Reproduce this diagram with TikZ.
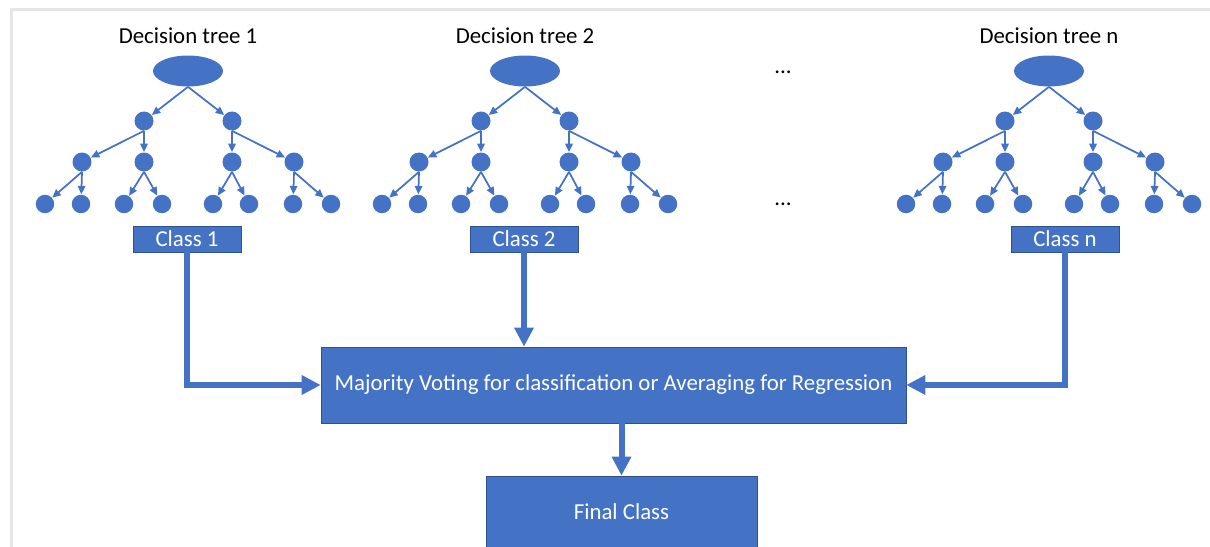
\documentclass[tikz,border=0pt]{standalone}
\usepackage{fontspec}
\setmainfont{Carlito}
\usetikzlibrary{arrows.meta,shapes,positioning,calc}
\definecolor{office}{HTML}{4472C4}
\definecolor{officedark}{HTML}{2F528F}
\definecolor{framegray}{HTML}{E6E6E6}
\tikzset{
    treeroot/.style={
        ellipse,
        fill=office,
        minimum width=1.4cm,
        minimum height=0.62cm,
        inner sep=0pt,
    },
    treenode/.style={
        circle,
        fill=office,
        minimum size=0.38cm,
        inner sep=0pt,
    },
    treeleaf/.style={
        circle,
        fill=office,
        minimum size=0.37cm,
        inner sep=0pt,
    },
    title/.style={
        font=\fontsize{13}{15}\selectfont,
        text=black,
    },
    classbox/.style={
        rectangle,
        draw=officedark,
        fill=office,
        text=white,
        font=\fontsize{13}{15}\selectfont,
        minimum width=2.16cm,
        minimum height=0.52cm,
        inner sep=0pt,
    },
    bigbox/.style={
        rectangle,
        draw=officedark,
        fill=office,
        text=white,
        font=\fontsize{13}{15}\selectfont,
        inner sep=0pt,
    },
    flow/.style={
        draw=office,
        line width=0.12cm,
        -{Triangle[length=0.38cm,width=0.37cm]},
    },
    every edge/.style={
        draw=office,
        -{Triangle[length=0.17cm,width=0.15cm]},
        line width=0.035cm,
    },
}
\begin{document}
\begin{tikzpicture}[x=0.02cm,y=-0.02cm]
    \useasboundingbox (0,0) rectangle (1210,547);
    \draw [framegray, line width=0.06cm] (11.5,547) -- (11.5,10) -- (1210,10);

    % one tree per column
    \foreach \t/\x/\c in {1/188/187, 2/525/524, n/1049/1065}{
        \node [title] (t\t) at (\x,36) {Decision tree \t};
        \node [treeroot] (r\t) at (\x,71) {};
        \node [treenode] (a\t1) at (\x-44,121) {};
        \node [treenode] (a\t2) at (\x+44,121) {};
        \node [treenode] (b\t1) at (\x-106,162) {};
        \node [treenode] (b\t2) at (\x-44,162) {};
        \node [treenode] (b\t3) at (\x+44,162) {};
        \node [treenode] (b\t4) at (\x+106,162) {};
        \node [treeleaf] (c\t1) at (\x-143,204) {};
        \node [treeleaf] (c\t2) at (\x-107,204) {};
        \node [treeleaf] (c\t3) at (\x-64,204) {};
        \node [treeleaf] (c\t4) at (\x-26,204) {};
        \node [treeleaf] (c\t5) at (\x+25,204) {};
        \node [treeleaf] (c\t6) at (\x+61,204) {};
        \node [treeleaf] (c\t7) at (\x+105,204) {};
        \node [treeleaf] (c\t8) at (\x+143,204) {};
        \draw (r\t.south) edge (a\t1) edge (a\t2);
        \draw (a\t1.south) edge (b\t1) edge (b\t2);
        \draw (a\t2.south) edge (b\t3) edge (b\t4);
        \draw (b\t1.south) edge (c\t1) edge (c\t2);
        \draw (b\t2.south) edge (c\t3) edge (c\t4);
        \draw (b\t3.south) edge (c\t5) edge (c\t6);
        \draw (b\t4.south) edge (c\t7) edge (c\t8);
        \node [classbox] (k\t) at (\c,239) {Class \t};
    }

    \node [title] (d1) at (783,72) {...};
    \node [title] (d2) at (783,204) {...};

    \node [bigbox, minimum width=11.7cm, minimum height=1.52cm] (vote) at (613.5,385)
        {Majority Voting for classification or Averaging for Regression};
    \node [bigbox, minimum width=5.42cm, minimum height=1.42cm] (final) at (621.5,511.5)
        {Final Class};

    \draw [flow] (k1.south) |- (vote.west);
    \draw [flow] (k2.south) -- (k2.south |- vote.north);
    \draw [flow] (kn.south) |- (vote.east);
    \draw [flow] (final.north |- vote.south) -- (final.north);
\end{tikzpicture}
\end{document}
